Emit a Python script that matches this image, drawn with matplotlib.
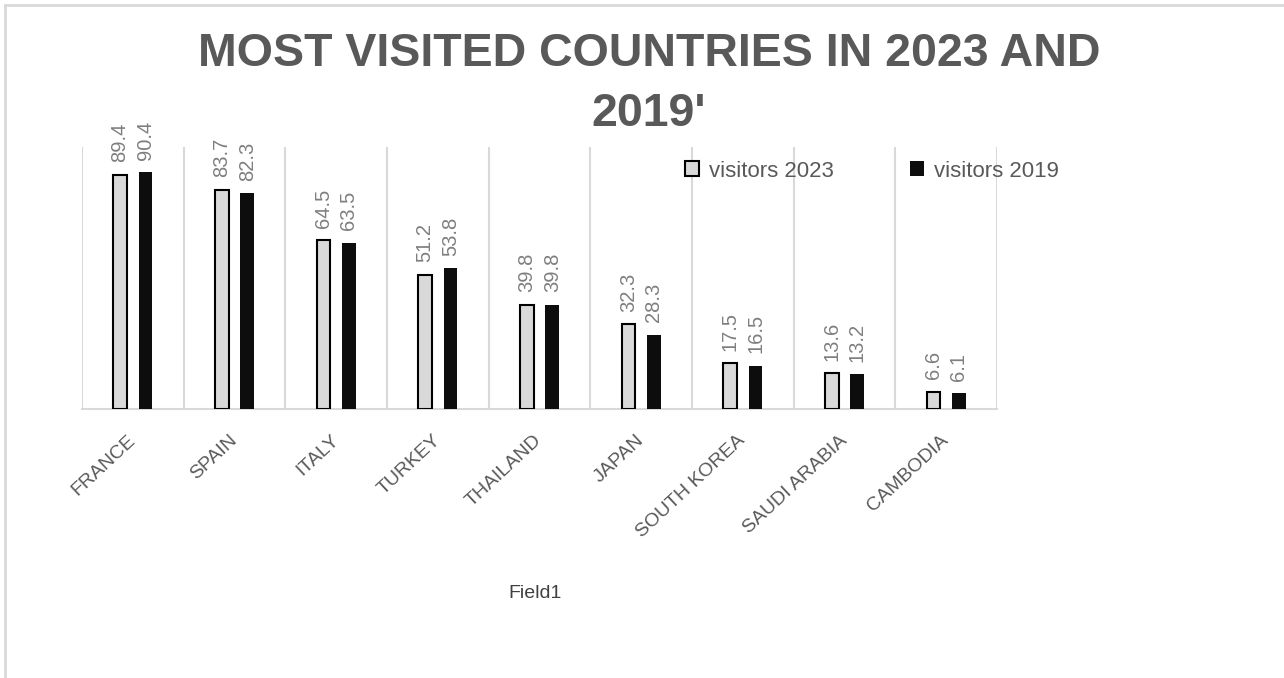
import numpy as np
import matplotlib
matplotlib.use('Agg')
import matplotlib.pyplot as plt
from matplotlib.lines import Line2D

countries = ['FRANCE', 'SPAIN', 'ITALY', 'TURKEY', 'THAILAND', 'JAPAN',
             'SOUTH KOREA', 'SAUDI ARABIA', 'CAMBODIA']
visitors_2023 = [89.4, 83.7, 64.5, 51.2, 39.8, 32.3, 17.5, 13.6, 6.6]
visitors_2019 = [90.4, 82.3, 63.5, 53.8, 39.8, 28.3, 16.5, 13.2, 6.1]

title = "MOST VISITED COUNTRIES IN 2023 AND\n2019'"
x_label = 'Field1'

GRID = '#d9d9d9'
TEXT = '#595959'
LABEL = '#7f7f7f'

plt.rcParams['font.family'] = ['Liberation Sans', 'DejaVu Sans']

W, H = 1284, 678
fig = plt.figure(figsize=(W / 100, H / 100), dpi=100)
ax = fig.add_axes([82 / W, 1 - 409 / H, (997 - 82) / W, (409 - 147) / H])

x = np.arange(len(countries))
bw = 0.135
off = 0.125
b23 = ax.bar(x - off, visitors_2023, bw, color='#d9d9d9', edgecolor='black',
             linewidth=1.5, label='visitors 2023', zorder=3)
b19 = ax.bar(x + off, visitors_2019, bw, color='#0d0d0d', linewidth=0,
             label='visitors 2019', zorder=3)

for bars in (b23, b19):
    ax.bar_label(bars, fmt='%.1f', rotation=90, padding=9, color=LABEL,
                 fontsize=14.5)

ax.set_xlim(-0.5, len(countries) - 0.5)
ax.set_ylim(0, 100)

# category boundaries as vertical gridlines
ax.set_xticks(np.arange(len(countries) + 1) - 0.5, minor=True)
ax.grid(True, which='minor', axis='x', color=GRID, linewidth=1.5, zorder=0)
ax.tick_params(which='minor', length=0)

ax.set_xticks(x)
ax.set_xticklabels(countries, rotation=43, ha='right', va='center',
                   rotation_mode='anchor', color=TEXT, fontsize=14)
ax.tick_params(axis='x', which='major', length=0, pad=21)
ax.set_yticks([])

for side in ('left', 'right', 'top'):
    ax.spines[side].set_visible(False)
ax.spines['bottom'].set_color(GRID)
ax.spines['bottom'].set_linewidth(1.5)

ax.set_xlabel(x_label, fontsize=14, color='#404040')
ax.xaxis.set_label_coords((535 - 82) / (997 - 82), -(585 - 409) / (409 - 147))

leg = fig.legend(loc='center left', bbox_to_anchor=(685 / W, 1 - 171 / H),
                 ncol=2, frameon=False, fontsize=16, handlelength=0.65,
                 handleheight=0.65, handletextpad=0.45, columnspacing=3.4,
                 borderpad=0, borderaxespad=0)
for t in leg.get_texts():
    t.set_color(TEXT)

fig.text(649 / W, 1 - 84 / H, title, ha='center', va='center',
         fontsize=33.5, fontweight='bold', color=TEXT, linespacing=1.45)

# outer chart frame on top and left
fig.add_artist(Line2D([5 / W, 1], [1 - 5 / H, 1 - 5 / H], color=GRID,
                      linewidth=2, transform=fig.transFigure))
fig.add_artist(Line2D([5 / W, 5 / W], [0, 1 - 5 / H], color=GRID,
                      linewidth=2, transform=fig.transFigure))

fig.savefig('out.png', dpi=100, facecolor='white')
